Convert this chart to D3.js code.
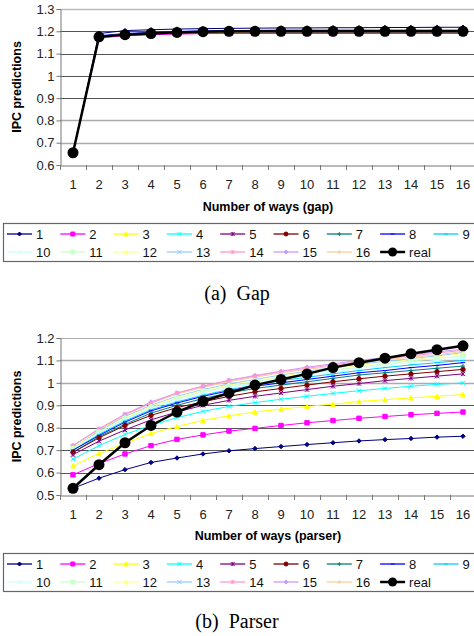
<!DOCTYPE html>
<html><head><meta charset="utf-8">
<script src="https://cdn.jsdelivr.net/npm/d3@7"></script>
<style>body{margin:0;background:#fff;}svg{display:block;}</style>
</head><body>
<svg id="c" width="474" height="636"></svg>
<script>
// ---------- DATA ----------
const ways = d3.range(1, 17);
const seriesNames = ["1","2","3","4","5","6","7","8","9","10","11","12","13","14","15","16"];
const seriesColors = ["#000080","#FF00FF","#FFFF00","#00FFFF","#800080","#800000","#008080","#0000FF",
  "#00CCFF","#CCFFFF","#CCFFCC","#FFFF99","#99CCFF","#FF99CC","#CC99FF","#FFCC99"];
const seriesMarkers = ["diamond","square","triangle","x","star","circle","plus","dash",
  "dash","plus","square","triangle","x","star","diamond","plus"];

// Gap
const gapTicks = [0.6,0.7,0.8,0.9,1,1.1,1.2,1.3];
const gapReal = [0.655,1.175,1.185,1.19,1.195,1.198,1.2,1.2,1.2,1.2,1.2,1.2,1.2,1.2,1.2,1.2];
const gapSeries = [
  [0.655,1.19,1.203,1.207,1.21,1.212,1.213,1.214,1.215,1.215,1.216,1.216,1.217,1.217,1.218,1.218],
  [0.655,1.17,1.18,1.185,1.188,1.19,1.19,1.19,1.19,1.19,1.19,1.19,1.19,1.19,1.19,1.19],
  [0.655,1.175,1.185,1.19,1.194,1.197,1.198,1.199,1.2,1.2,1.2,1.2,1.2,1.2,1.2,1.2],
  [0.655,1.176,1.186,1.191,1.195,1.198,1.199,1.2,1.2,1.2,1.2,1.2,1.2,1.2,1.2,1.2],
  [0.655,1.177,1.187,1.192,1.196,1.199,1.2,1.201,1.201,1.201,1.201,1.201,1.201,1.201,1.201,1.201],
  [0.655,1.174,1.183,1.188,1.192,1.195,1.196,1.197,1.197,1.197,1.197,1.197,1.197,1.197,1.197,1.197],
  [0.655,1.178,1.188,1.193,1.197,1.2,1.201,1.202,1.202,1.202,1.202,1.202,1.202,1.202,1.202,1.202],
  [0.655,1.18,1.19,1.195,1.199,1.202,1.203,1.204,1.205,1.205,1.205,1.205,1.205,1.205,1.205,1.205],
  [0.655,1.176,1.186,1.191,1.195,1.198,1.2,1.2,1.2,1.2,1.2,1.2,1.2,1.2,1.2,1.2],
  [0.655,1.175,1.185,1.19,1.195,1.198,1.2,1.2,1.2,1.2,1.2,1.2,1.2,1.2,1.2,1.2],
  [0.655,1.175,1.185,1.19,1.195,1.198,1.2,1.2,1.2,1.2,1.2,1.2,1.2,1.2,1.2,1.2],
  [0.655,1.175,1.185,1.19,1.195,1.198,1.2,1.2,1.2,1.2,1.2,1.2,1.2,1.2,1.2,1.2],
  [0.655,1.175,1.185,1.19,1.195,1.198,1.2,1.2,1.2,1.2,1.2,1.2,1.2,1.2,1.2,1.2],
  [0.655,1.172,1.18,1.184,1.187,1.189,1.19,1.19,1.19,1.19,1.19,1.19,1.19,1.19,1.19,1.19],
  [0.655,1.175,1.185,1.19,1.195,1.198,1.2,1.2,1.2,1.2,1.2,1.2,1.2,1.2,1.2,1.2],
  [0.655,1.174,1.184,1.189,1.194,1.197,1.199,1.199,1.199,1.199,1.199,1.199,1.199,1.199,1.199,1.199]
];

// Parser
const parserTicks = [0.5,0.6,0.7,0.8,0.9,1,1.1,1.2];
const parserReal = [0.53,0.635,0.733,0.81,0.87,0.918,0.955,0.99,1.015,1.04,1.068,1.09,1.11,1.13,1.148,1.165];
const parserSeries = [
  [0.53,0.575,0.613,0.645,0.665,0.683,0.697,0.707,0.716,0.725,0.733,0.741,0.747,0.752,0.758,0.762],
  [0.59,0.64,0.683,0.72,0.748,0.768,0.785,0.797,0.81,0.822,0.832,0.842,0.85,0.858,0.864,0.87],
  [0.63,0.685,0.73,0.775,0.805,0.833,0.853,0.87,0.883,0.895,0.905,0.917,0.925,0.933,0.94,0.948],
  [0.66,0.72,0.77,0.81,0.845,0.873,0.895,0.912,0.927,0.94,0.953,0.965,0.975,0.985,0.993,1.0],
  [0.68,0.74,0.79,0.835,0.87,0.9,0.922,0.94,0.955,0.97,0.985,0.997,1.01,1.02,1.03,1.04],
  [0.69,0.755,0.81,0.855,0.89,0.915,0.94,0.96,0.975,0.99,1.005,1.018,1.03,1.04,1.05,1.06],
  [0.69,0.76,0.815,0.865,0.9,0.93,0.955,0.975,0.99,1.005,1.02,1.035,1.045,1.055,1.065,1.075],
  [0.70,0.765,0.825,0.875,0.91,0.94,0.965,0.985,1.0,1.015,1.03,1.045,1.055,1.068,1.078,1.09],
  [0.70,0.77,0.83,0.88,0.915,0.945,0.97,0.99,1.01,1.025,1.04,1.055,1.068,1.08,1.09,1.10],
  [0.70,0.775,0.835,0.885,0.925,0.955,0.98,1.0,1.02,1.035,1.05,1.065,1.078,1.09,1.1,1.11],
  [0.705,0.78,0.84,0.89,0.93,0.96,0.985,1.005,1.025,1.04,1.057,1.07,1.085,1.097,1.108,1.12],
  [0.71,0.78,0.845,0.895,0.935,0.965,0.99,1.01,1.03,1.047,1.063,1.078,1.09,1.103,1.115,1.13],
  [0.71,0.785,0.85,0.9,0.94,0.97,0.995,1.015,1.035,1.052,1.068,1.083,1.096,1.108,1.12,1.135],
  [0.72,0.795,0.86,0.91,0.955,0.985,1.01,1.03,1.05,1.065,1.08,1.095,1.108,1.12,1.133,1.145],
  [0.72,0.795,0.86,0.915,0.955,0.985,1.012,1.033,1.052,1.07,1.085,1.1,1.113,1.125,1.138,1.15],
  [0.72,0.79,0.855,0.91,0.95,0.98,1.005,1.025,1.045,1.06,1.075,1.09,1.103,1.115,1.125,1.14]
];

// ---------- DRAW ----------
const svg = d3.select("#c");
const FONT = "'Liberation Sans', Arial, sans-serif";

function markerPath(type, s) {
  const h = s;
  switch (type) {
    case "diamond": return `M0,${-h}L${h},0L0,${h}L${-h},0Z`;
    case "square": return `M${-h},${-h}H${h}V${h}H${-h}Z`;
    case "triangle": return `M0,${-h}L${h},${h}L${-h},${h}Z`;
    case "circle": return d3.symbol(d3.symbolCircle, Math.PI * h * h)();
    case "x": return `M${-h},${-h}L${h},${h}M${-h},${h}L${h},${-h}`;
    case "star": return `M${-h},${-h}L${h},${h}M${-h},${h}L${h},${-h}M0,${-h}V${h}`;
    case "plus": return `M${-h},0H${h}M0,${-h}V${h}`;
    case "dash": return `M${-h},0H${h}`;
  }
}
const filled = t => ["diamond","square","triangle","circle"].includes(t);

function drawChart(cfg) {
  const g = svg.append("g");
  const x = d3.scaleBand().domain(ways).range([60, 476]);
  const y = d3.scaleLinear().domain([cfg.ticks[0], cfg.ticks[cfg.ticks.length - 1]]).range([cfg.bottom, cfg.top]);
  const cx = d => x(d) + x.bandwidth() / 2;

  // gridlines
  g.selectAll("line.grid").data(cfg.ticks.slice(1)).join("line")
    .attr("x1", 60).attr("x2", 476)
    .attr("y1", d => Math.round(y(d)) + 0.5).attr("y2", d => Math.round(y(d)) + 0.5)
    .attr("stroke", (d, i) => cfg.gridColors[i]).attr("stroke-width", (d, i) => cfg.gridWidths[i]);

  // y axis
  const ya = d3.axisLeft(y).tickValues(cfg.ticks).tickSize(4).tickFormat(d => String(+d.toFixed(1)));
  const yg = g.append("g").attr("transform", "translate(60.5,0)").call(ya);
  yg.select(".domain").attr("stroke", "#777");
  yg.selectAll(".tick line").attr("stroke", "#777");
  yg.selectAll("text").attr("font-family", FONT).attr("font-size", 13).attr("fill", "#222").attr("x", -6);

  // x axis
  const xa = d3.axisBottom(x).tickSize(0).tickPadding(14);
  const xg = g.append("g").attr("transform", `translate(0,${Math.round(cfg.bottom) + 0.5})`).call(xa);
  xg.select(".domain").attr("stroke", "#777");
  xg.selectAll("text").attr("font-family", FONT).attr("font-size", 13).attr("fill", "#222");
  g.selectAll("line.xt").data(d3.range(0, 17)).join("line")
    .attr("x1", i => Math.round(60 + i * x.step()) + 0.5).attr("x2", i => Math.round(60 + i * x.step()) + 0.5)
    .attr("y1", cfg.bottom).attr("y2", cfg.bottom + 5).attr("stroke", "#777");

  // titles
  g.append("text").attr("x", 268).attr("y", cfg.xTitleY).attr("text-anchor", "middle")
    .attr("font-family", FONT).attr("font-weight", "bold").attr("font-size", 12.5).text(cfg.xTitle);
  g.append("text").attr("transform", `translate(21,${(cfg.top + cfg.bottom) / 2}) rotate(-90)`)
    .attr("text-anchor", "middle").attr("font-family", FONT).attr("font-weight", "bold")
    .attr("font-size", 12.5).text("IPC predictions");

  const line = d3.line().x((d, i) => cx(ways[i])).y(d => y(d));

  const order = d3.range(cfg.series.length).reverse();
  order.forEach(k => {
    const vals = cfg.series[k];
    const col = seriesColors[k];
    g.append("path").attr("d", line(vals)).attr("fill", "none").attr("stroke", col).attr("stroke-width", 1);
    g.selectAll(null).data(vals).join("path")
      .attr("transform", (d, i) => `translate(${cx(ways[i])},${y(d)})`)
      .attr("d", markerPath(seriesMarkers[k], 2.2))
      .attr("fill", filled(seriesMarkers[k]) ? col : "none")
      .attr("stroke", col).attr("stroke-width", 1);
  });
  // real
  g.append("path").attr("d", line(cfg.real)).attr("fill", "none").attr("stroke", "#000").attr("stroke-width", 2.5);
  g.selectAll("circle.real").data(cfg.real).join("circle")
    .attr("cx", (d, i) => cx(ways[i])).attr("cy", d => y(d)).attr("r", 5.5).attr("fill", "#000");

  // legend
  const lg = g.append("g");
  lg.append("rect").attr("x", 3.5).attr("y", cfg.legTop + 0.5).attr("width", 480).attr("height", 38)
    .attr("fill", "#fff").attr("stroke", "#666").attr("stroke-width", 1.2);
  const items = seriesNames.map((n, k) => ({ name: n, k })).concat([{ name: "real", k: -1 }]);
  items.forEach((it, idx) => {
    const row = idx < 9 ? 0 : 1;
    const col = idx < 9 ? idx : idx - 9;
    const x0 = 7 + col * 53.3;
    const yy = cfg.legTop + 11 + row * 18;
    const color = it.k < 0 ? "#000" : seriesColors[it.k];
    lg.append("line").attr("x1", x0).attr("x2", x0 + 25).attr("y1", yy).attr("y2", yy)
      .attr("stroke", color).attr("stroke-width", it.k < 0 ? 2.5 : 1.3);
    if (it.k < 0) {
      lg.append("circle").attr("cx", x0 + 12.5).attr("cy", yy).attr("r", 4.5).attr("fill", "#000");
    } else {
      const m = seriesMarkers[it.k];
      lg.append("path").attr("transform", `translate(${x0 + 12.5},${yy})`).attr("d", markerPath(m, 2))
        .attr("fill", filled(m) ? color : "none").attr("stroke", color);
    }
    lg.append("text").attr("x", x0 + 29).attr("y", yy + 4.5).attr("font-family", FONT)
      .attr("font-size", 13).attr("fill", "#111").text(it.name);
  });

  // caption
  svg.append("text").attr("x", 237).attr("y", cfg.capY).attr("text-anchor", "middle")
    .attr("font-family", "'Liberation Serif', 'Times New Roman', serif").attr("font-size", 20)
    .text(cfg.caption);
}

drawChart({
  ticks: gapTicks, top: 9, bottom: 165, real: gapReal, series: gapSeries,
  gridColors: ["#aaa","#aaa","#555","#555","#555","#555","#bbb"],
  gridWidths: [1.5,1.5,1,1,1,1.2,1.5],
  xTitle: "Number of ways (gap)", xTitleY: 211, legTop: 223, caption: "(a)\u00a0\u00a0Gap", capY: 300
});
drawChart({
  ticks: parserTicks, top: 338, bottom: 495, real: parserReal, series: parserSeries,
  gridColors: ["#555","#555","#555","#555","#aaa","#aaa","#aaa"],
  gridWidths: [1,1,1,1,1.5,1.5,1.2],
  xTitle: "Number of ways (parser)", xTitleY: 540, legTop: 553, caption: "(b)\u00a0\u00a0Parser", capY: 628
});
</script>
</body></html>
